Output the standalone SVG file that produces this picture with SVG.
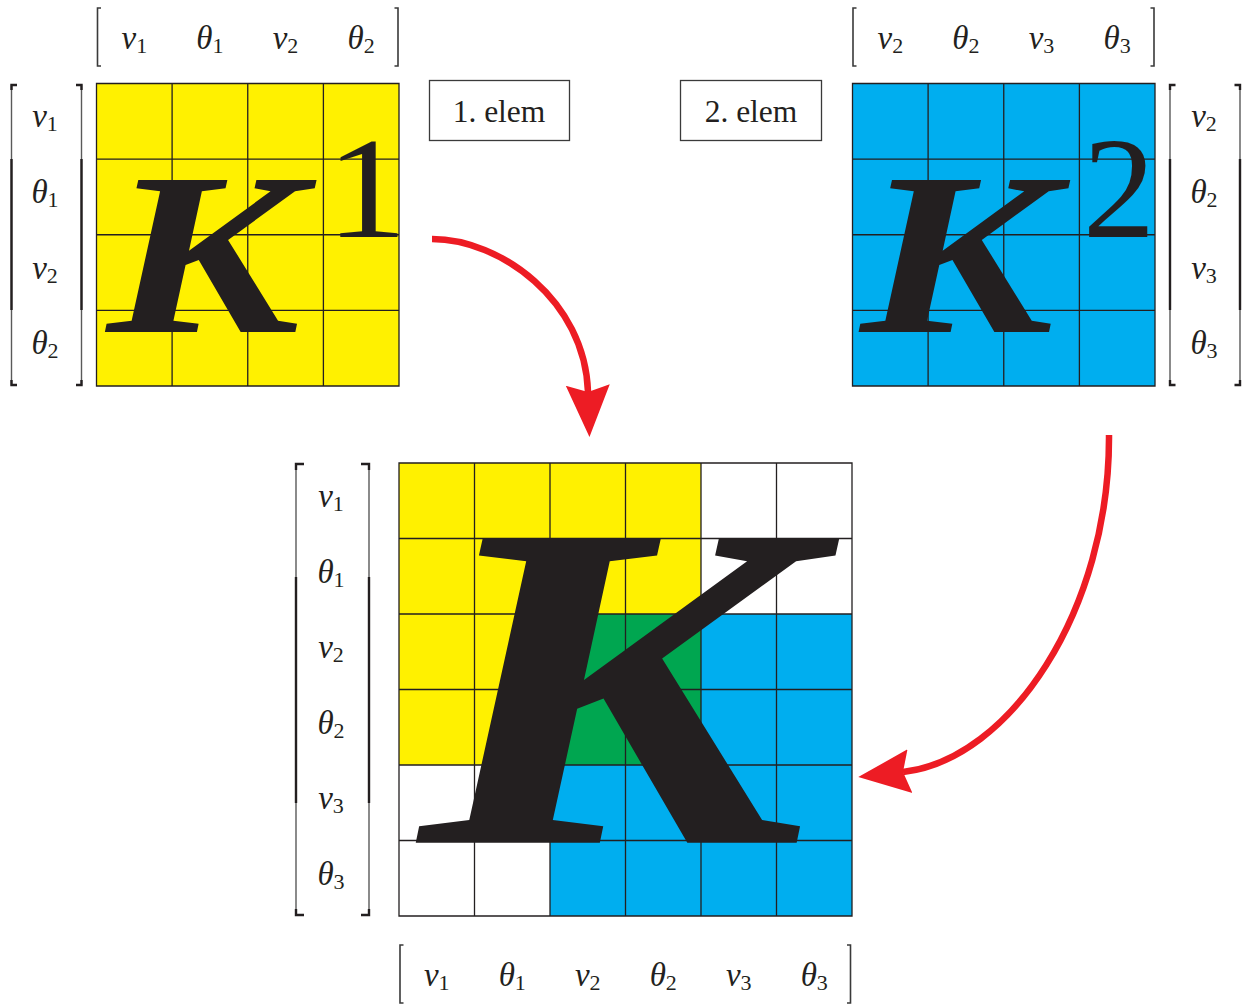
<svg xmlns="http://www.w3.org/2000/svg" width="1246" height="1006" viewBox="0 0 1246 1006">
<style>
.grid{stroke:#231F20;stroke-width:1.3;fill:none}
.lbl{font-family:"Liberation Serif",serif;font-size:33px;fill:#231F20;text-anchor:middle}
.m{font-style:italic}
.s{font-size:22px}
.bt{stroke:#5a5a5a;stroke-width:1.4;fill:none}
.bk{stroke:#231F20;stroke-width:2.4;fill:none}
.br{stroke:#3a3a3a;stroke-width:1.6;fill:none}
.bigK{font-family:"Liberation Serif",serif;font-weight:bold;font-style:italic;fill:#231F20}
.sup{font-family:"Liberation Serif",serif;fill:#231F20;text-anchor:middle}
.box{fill:#fff;stroke:#3a3a3a;stroke-width:1.3}
.btxt{font-family:"Liberation Serif",serif;font-size:31.5px;fill:#231F20;text-anchor:middle}
.conn{stroke:#ED1C24;stroke-width:6.5;fill:none;marker-end:url(#ah)}
.yel{fill:#FFF100}
.blu{fill:#00AEEF}
.grn{fill:#00A650}
</style>
<defs>
<marker id="ah" markerUnits="userSpaceOnUse" markerWidth="60" markerHeight="50" viewBox="0 -25 60 50" refX="7" refY="0" orient="auto">
<path d="M52,0 L0,-22 L7,0 L0,22 Z" fill="#ED1C24"/>
</marker>
</defs>

<g id="k1-matrix">
<rect class="yel" x="96.5" y="83.5" width="302.5" height="302.5"/>
<path class="grid" d="M96.5,83.5H399V386H96.5Z M172.1,83.5V386 M247.75,83.5V386 M323.4,83.5V386 M96.5,159.1H399 M96.5,234.75H399 M96.5,310.4H399"/>
<text class="bigK" font-size="232" transform="translate(107,332) scale(1.25,1)">K</text>
<text class="sup" font-size="145" transform="translate(366.5,237) scale(1.12,1)">1</text>
</g>

<g id="k1-col-labels">
<path class="br" d="M101,8H97.5V66H101 M394.5,8H398V66H394.5"/>
<text class="lbl" x="134.3" y="49"><tspan class="m">v</tspan><tspan class="s" dy="4">1</tspan></text>
<text class="lbl" x="209.9" y="49"><tspan class="m">θ</tspan><tspan class="s" dy="4">1</tspan></text>
<text class="lbl" x="285.5" y="49"><tspan class="m">v</tspan><tspan class="s" dy="4">2</tspan></text>
<text class="lbl" x="361.1" y="49"><tspan class="m">θ</tspan><tspan class="s" dy="4">2</tspan></text>
</g>

<g id="k1-row-labels">
<path class="bt" d="M11.5,85V385 M81.5,85V385"/>
<path class="bk" d="M17,85H11.5V90 M11.5,159V310 M11.5,380V385H17 M76,85H81.5V90 M81.5,159V310 M81.5,380V385H76"/>
<text class="lbl" x="45" y="127"><tspan class="m">v</tspan><tspan class="s" dy="4">1</tspan></text>
<text class="lbl" x="45" y="203"><tspan class="m">θ</tspan><tspan class="s" dy="4">1</tspan></text>
<text class="lbl" x="45" y="279"><tspan class="m">v</tspan><tspan class="s" dy="4">2</tspan></text>
<text class="lbl" x="45" y="354"><tspan class="m">θ</tspan><tspan class="s" dy="4">2</tspan></text>
</g>

<g id="elem1">
<rect class="box" x="429.5" y="80.5" width="140" height="60"/>
<text class="btxt" x="499" y="122">1. elem</text>
</g>

<g id="elem2">
<rect class="box" x="680.5" y="80.5" width="141" height="60"/>
<text class="btxt" x="751" y="122">2. elem</text>
</g>

<g id="k2-matrix">
<rect class="blu" x="852.5" y="83.5" width="302.5" height="302.5"/>
<path class="grid" d="M852.5,83.5H1155V386H852.5Z M928.1,83.5V386 M1003.75,83.5V386 M1079.4,83.5V386 M852.5,159.1H1155 M852.5,234.75H1155 M852.5,310.4H1155"/>
<text class="bigK" font-size="232" transform="translate(860.7,332) scale(1.25,1)">K</text>
<text class="sup" font-size="145" transform="translate(1119,237)">2</text>
</g>

<g id="k2-col-labels">
<path class="br" d="M856.5,8H853V66H856.5 M1150.5,8H1154V66H1150.5"/>
<text class="lbl" x="890.3" y="49"><tspan class="m">v</tspan><tspan class="s" dy="4">2</tspan></text>
<text class="lbl" x="965.9" y="49"><tspan class="m">θ</tspan><tspan class="s" dy="4">2</tspan></text>
<text class="lbl" x="1041.5" y="49"><tspan class="m">v</tspan><tspan class="s" dy="4">3</tspan></text>
<text class="lbl" x="1117.1" y="49"><tspan class="m">θ</tspan><tspan class="s" dy="4">3</tspan></text>
</g>

<g id="k2-row-labels">
<path class="bt" d="M1170,85V385 M1240,85V385"/>
<path class="bk" d="M1175.5,85H1170V90 M1170,159V310 M1170,380V385H1175.5 M1234.5,85H1240V90 M1240,159V310 M1240,380V385H1234.5"/>
<text class="lbl" x="1204" y="127"><tspan class="m">v</tspan><tspan class="s" dy="4">2</tspan></text>
<text class="lbl" x="1204" y="203"><tspan class="m">θ</tspan><tspan class="s" dy="4">2</tspan></text>
<text class="lbl" x="1204" y="279"><tspan class="m">v</tspan><tspan class="s" dy="4">3</tspan></text>
<text class="lbl" x="1204" y="354"><tspan class="m">θ</tspan><tspan class="s" dy="4">3</tspan></text>
</g>

<g id="k-global">
<rect x="399" y="463" width="453" height="453" fill="#fff"/>
<rect class="yel" x="399" y="463" width="302" height="302"/>
<rect class="blu" x="550" y="614" width="302" height="302"/>
<rect class="grn" x="550" y="614" width="151" height="151"/>
<path class="grid" d="M399,463H852V916H399Z M474.5,463V916 M550,463V916 M625.5,463V916 M701,463V916 M776.5,463V916 M399,538.5H852 M399,614H852 M399,689.5H852 M399,765H852 M399,840.5H852"/>
<text class="bigK" font-size="464" transform="translate(420,842.7) scale(1.25,1)">K</text>
</g>

<g id="global-row-labels">
<path class="bt" d="M296,463V916 M369,463V916"/>
<path class="bk" d="M304,464H296V470 M296,577V803 M296,909V915H304 M361,464H369V470 M369,577V803 M369,909V915H361"/>
<text class="lbl" x="331" y="507"><tspan class="m">v</tspan><tspan class="s" dy="4">1</tspan></text>
<text class="lbl" x="331" y="583"><tspan class="m">θ</tspan><tspan class="s" dy="4">1</tspan></text>
<text class="lbl" x="331" y="658"><tspan class="m">v</tspan><tspan class="s" dy="4">2</tspan></text>
<text class="lbl" x="331" y="734"><tspan class="m">θ</tspan><tspan class="s" dy="4">2</tspan></text>
<text class="lbl" x="331" y="809"><tspan class="m">v</tspan><tspan class="s" dy="4">3</tspan></text>
<text class="lbl" x="331" y="885"><tspan class="m">θ</tspan><tspan class="s" dy="4">3</tspan></text>
</g>

<g id="global-col-labels">
<path class="br" d="M403.5,945H400V1003H403.5 M847,945H850.5V1003H847"/>
<text class="lbl" x="436.75" y="986"><tspan class="m">v</tspan><tspan class="s" dy="4">1</tspan></text>
<text class="lbl" x="512.25" y="986"><tspan class="m">θ</tspan><tspan class="s" dy="4">1</tspan></text>
<text class="lbl" x="587.75" y="986"><tspan class="m">v</tspan><tspan class="s" dy="4">2</tspan></text>
<text class="lbl" x="663.25" y="986"><tspan class="m">θ</tspan><tspan class="s" dy="4">2</tspan></text>
<text class="lbl" x="738.75" y="986"><tspan class="m">v</tspan><tspan class="s" dy="4">3</tspan></text>
<text class="lbl" x="814.25" y="986"><tspan class="m">θ</tspan><tspan class="s" dy="4">3</tspan></text>
</g>

<g id="connectors">
<path class="conn" d="M432,239 C500,239 585,300 588,392"/>
<path class="conn" d="M1109,435 C1110,610 1010,760 903,772"/>
</g>
</svg>
